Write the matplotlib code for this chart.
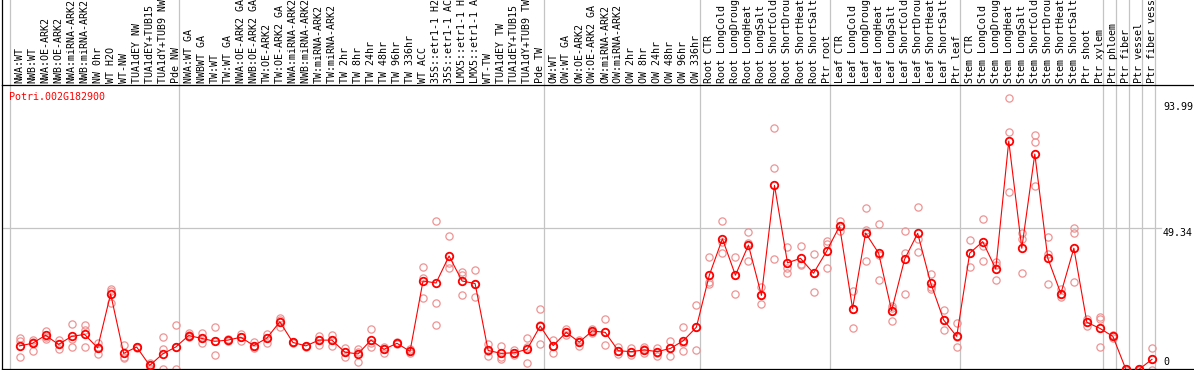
import matplotlib
matplotlib.use("Agg")
import matplotlib.pyplot as plt
import matplotlib.transforms as mtransforms
from matplotlib.lines import Line2D
import numpy as np

# ---------------- data ----------------
gene = "Potri.002G182900"

labels = [
    "NWA:WT", "NWB:WT", "NWA:OE-ARK2", "NWB:OE-ARK2", "NWA:miRNA-ARK2", "NWB:miRNA-ARK2",
    "NW 0hr", "WT H2O", "WT-NW", "TUA1dEY NW", "TUA1dEY+TUB15 NW", "TUA1dY+TUB9 NW", "Pde NW",
    "NWA:WT GA", "NWBWT GA", "TW:WT", "TW:WT GA", "NWA:OE-ARK2 GA", "NWB:OE-ARK2 GA",
    "TW:OE-ARK2", "TW:OE-ARK2 GA", "NWA:miRNA-ARK2 GA", "NWB:miRNA-ARK2 GA", "TW:miRNA-ARK2",
    "TW:miRNA-ARK2 GA", "TW 2hr", "TW 8hr", "TW 24hr", "TW 48hr", "TW 96hr", "TW 336hr",
    "WT ACC", "35S::etr1-1 H2O", "35S::etr1-1 ACC", "LMX5::etr1-1 H2O", "LMX5::etr1-1 ACC",
    "WT-TW", "TUA1dEY TW", "TUA1dEY+TUB15 TW", "TUA1dY+TUB9 TW", "Pde TW",
    "OW:WT", "OW:WT GA", "OW:OE-ARK2", "OW:OE-ARK2 GA", "OW:miRNA-ARK2", "OW:miRNA-ARK2 GA",
    "OW 2hr", "OW 8hr", "OW 24hr", "OW 48hr", "OW 96hr", "OW 336hr",
    "Root CTR", "Root LongCold", "Root LongDrought", "Root LongHeat", "Root LongSalt",
    "Root ShortCold", "Root ShortDrought", "Root ShortHeat", "Root ShortSalt", "Ptr root",
    "Leaf CTR", "Leaf LongCold", "Leaf LongDrought", "Leaf LongHeat", "Leaf LongSalt",
    "Leaf ShortCold", "Leaf ShortDrought", "Leaf ShortHeat", "Leaf ShortSalt", "Ptr leaf",
    "Stem CTR", "Stem LongCold", "Stem LongDrought", "Stem LongHeat", "Stem LongSalt",
    "Stem ShortCold", "Stem ShortDrought", "Stem ShortHeat", "Stem ShortSalt", "Ptr shoot",
    "Ptr xylem", "Ptr phloem", "Ptr fiber", "Ptr vessel", "Ptr fiber vessel",
]

means = [
    8.4, 9.3, 12.1, 8.9, 11.7, 12.4, 7.7, 26.5, 5.8, 8.0, 1.6, 5.6, 8.0,
    12.0, 11.0, 10.0, 10.4, 11.4, 8.5, 11.1, 16.8, 9.6, 8.4, 10.4, 10.4, 6.2, 5.6,
    10.4, 7.2, 9.3, 6.5, 31.0, 30.3, 39.7, 31.0, 30.1, 6.8, 5.8, 6.0, 7.2, 15.3,
    8.5, 13.1, 9.7, 13.6, 13.1, 6.7, 6.4, 7.0, 6.4, 7.5, 10.2, 14.9,
    33.1, 45.7, 33.0, 43.5, 26.0, 64.3, 37.3, 38.9, 33.7, 41.3,
    50.1, 21.4, 47.7, 40.7, 20.7, 38.6, 47.6, 30.3, 17.4, 11.7,
    40.7, 44.7, 35.2, 79.7, 42.4, 75.2, 38.9, 26.6, 42.4, 16.6, 14.5,
    11.7, 0.2, 0.2, 3.7,
]

replicates = [
    [11.3, 10.1, 4.4], [10.4, 9.9, 6.7], [13.7, 11.6, 10.7], [10.4, 8.9, 7.2],
    [15.9, 10.7, 8.1], [15.7, 13.9, 8.1], [9.3, 8.1, 5.5], [28.1, 27.6, 23.4],
    [8.7, 4.6, 4.1], [8.1, 8.1, 7.8], [2.6, 1.7, 0.6], [11.4, 7.2, 0.2],
    [15.6, 8.1, 0.5],
    [12.8, 12.2, 11.6], [12.8, 11.0, 9.3], [14.9, 10.0, 5.1], [10.7, 10.4, 10.2],
    [12.5, 11.4, 10.0], [9.9, 8.5, 7.5], [12.5, 11.1, 9.3], [18.0, 17.4, 15.1],
    [9.9, 9.6, 9.3], [8.5, 8.4, 8.1], [11.8, 10.4, 8.7], [12.2, 10.4, 8.5],
    [7.8, 6.4, 4.6], [7.2, 6.4, 2.9], [14.2, 9.3, 8.1], [8.1, 7.2, 6.0],
    [9.6, 9.3, 9.1], [7.2, 6.5, 6.0], [35.7, 31.9, 25.0], [51.9, 23.4, 15.6],
    [46.7, 37.1, 35.4], [34.0, 33.1, 26.1], [34.7, 29.9, 25.3], [8.9, 6.7, 4.9],
    [8.4, 4.6, 3.7], [7.0, 6.0, 5.1], [11.0, 8.1, 2.6], [21.2, 15.7, 8.9],
    [10.4, 8.5, 5.8], [14.2, 13.1, 12.1], [10.4, 9.7, 8.5], [14.2, 13.3, 13.0],
    [17.6, 13.1, 8.6], [7.9, 6.7, 5.6], [7.5, 6.4, 5.2], [7.9, 7.3, 6.0],
    [7.5, 6.0, 4.9], [10.1, 7.5, 4.9], [14.9, 9.3, 6.6], [22.5, 14.9, 6.8],
    [39.3, 30.8, 29.9], [51.8, 44.7, 40.6], [39.2, 33.0, 26.5], [47.9, 44.1, 37.8],
    [29.0, 26.1, 22.9], [84.1, 70.2, 38.5], [42.7, 35.4, 33.9], [43.2, 36.8, 36.6],
    [40.4, 33.7, 27.2], [44.9, 43.8, 35.4],
    [51.9, 50.1, 48.5], [27.4, 21.4, 14.5], [56.4, 48.7, 37.8], [50.7, 40.0, 31.3],
    [22.3, 21.5, 16.9], [48.4, 40.9, 26.5], [56.8, 45.5, 41.1], [33.4, 29.0, 28.2],
    [20.9, 17.4, 13.8], [16.2, 11.6, 7.9],
    [45.1, 40.6, 35.9], [52.5, 43.2, 37.8], [37.7, 36.6, 31.2], [94.6, 82.8, 61.9],
    [47.8, 45.5, 33.7], [81.8, 79.3, 64.0], [46.2, 40.3, 29.8], [28.1, 26.6, 25.3],
    [49.3, 47.6, 30.6], [17.6, 16.7, 15.3], [18.5, 17.6, 7.9],
    [12.2, 11.7, 11.1], [0.5, 0.2, 0.0], [0.5, 0.2, 0.0], [7.5, 3.7, 0.0],
]

# last sample index of each group (separator follows it); -1 = left edge line
group_last = [-1, 12, 40, 52, 62, 72, 83, 84, 85, 86, 87]

ytick_values = [0, 49.34, 93.99]
ytick_labels = ["0", "49.34", "93.99"]

# ---------------- styling / layout ----------------
W, H, DPI = 1194, 370, 100
MONO = "DejaVu Sans Mono"
FS = 7.2
RED = "#ff0000"
REP = "#ee9494"
GRID = "#c4c4c4"

fig = plt.figure(figsize=(W / DPI, H / DPI), dpi=DPI)
fig.patch.set_facecolor("white")

ax_left, ax_right, ax_top, ax_bot = 2.0, 1194.0, 85.0, 369.0
ax = fig.add_axes([ax_left / W, (H - ax_bot) / H,
                   (ax_right - ax_left) / W, (ax_bot - ax_top) / H])
ax.set_facecolor("white")

x = np.arange(len(labels))
ax.set_xlim(-1.345, 90.23)
ax.set_ylim(0.35, 99.24)
ax.set_xticks([])
ax.set_yticks([])

for side in ["top", "bottom", "left"]:
    ax.spines[side].set_color("black")
    ax.spines[side].set_linewidth(0.9)
ax.spines["right"].set_visible(False)
fig.add_artist(Line2D([ax_left / W, ax_left / W], [(H - ax_top) / H, 1.0],
                      color="black", lw=0.9))

# grid lines
ax.axhline(49.34, xmin=0, xmax=0.972, color=GRID, lw=0.9, zorder=0)
ext = (ax_bot - 0) / (ax_bot - ax_top)
for g in group_last:
    ax.axvline(g + 0.27, ymin=0, ymax=ext, color=GRID, lw=0.9,
               clip_on=False, zorder=0)

# replicate points
for i, r in enumerate(replicates):
    ax.plot([x[i]] * len(r), r, linestyle="none", marker="o", ms=5.2,
            mfc="none", mec=REP, mew=0.9, zorder=2)

# mean line & markers
ax.plot(x, means, color=RED, lw=0.8, zorder=3)
ax.plot(x, means, linestyle="none", marker="o", ms=5.4, mfc="none",
        mec=RED, mew=1.3, zorder=4)

# sample labels (rotated, above the plot)
lab_trans = (mtransforms.blended_transform_factory(ax.transData, ax.transAxes)
             + mtransforms.ScaledTranslation(0, 0.02, fig.dpi_scale_trans))
for i, lab in enumerate(labels):
    ax.text(x[i], 1.0, lab, rotation=90, ha="center", va="bottom",
            family=MONO, fontsize=FS, color="black", transform=lab_trans,
            clip_on=False)

# gene title
fig.text(9.3 / W, 1 - 96.7 / H, gene, color=RED, family=MONO, fontsize=FS,
         ha="left", va="center")

# y labels on the right, inside
tick_offsets_px = [8.3, -4.2, -6.6]
xfrac = (1163 - ax_left) / (ax_right - ax_left)
for val, txt, off in zip(ytick_values, ytick_labels, tick_offsets_px):
    tr = (mtransforms.blended_transform_factory(ax.transAxes, ax.transData)
          + mtransforms.ScaledTranslation(0, off / DPI, fig.dpi_scale_trans))
    ax.text(xfrac, val, txt, ha="left", va="center", family=MONO,
            fontsize=FS, color="black", transform=tr, clip_on=False)

fig.savefig("out.png", dpi=DPI, facecolor="white")
